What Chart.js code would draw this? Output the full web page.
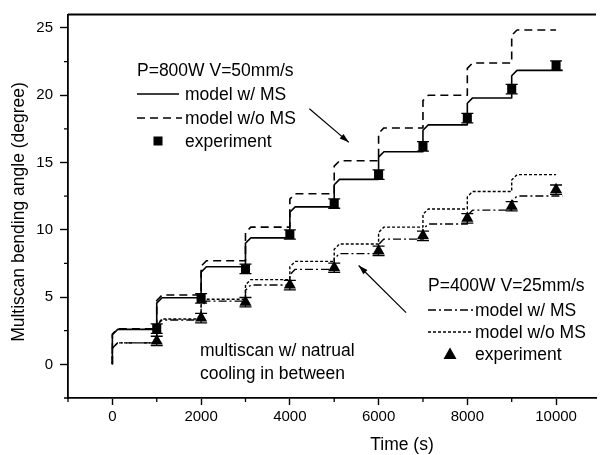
<!DOCTYPE html>
<html>
<head>
<meta charset="utf-8">
<script src="https://cdn.jsdelivr.net/npm/chart.js@4.4.0/dist/chart.umd.min.js"></script>
<style>
  html, body { margin: 0; padding: 0; background: #fff; overflow: hidden; }
  #wrap { width: 603px; height: 455px; position: relative; }
</style>
</head>
<body>
<div id="wrap"><canvas id="bendChart"></canvas></div>
<script>
// scans start every 1000 s, bending angle measured at the end of each cooling interval
const scanTimes = [0, 1000, 2000, 3000, 4000, 5000, 6000, 7000, 8000, 9000];
const expTimes = [1000, 2000, 3000, 4000, 5000, 6000, 7000, 8000, 9000, 10000];

// P=800W V=50mm/s
const model800MS = [2.6, 4.95, 7.25, 9.4, 11.7, 13.75, 15.8, 17.8, 19.8, 21.85];
const model800NoMS = [2.65, 5.15, 7.7, 10.2, 12.68, 15.13, 17.57, 20.0, 22.4, 24.85];
const exp800 = [2.66, 4.9, 7.1, 9.65, 11.95, 14.1, 16.2, 18.3, 20.45, 22.2];
const err800 = [0.35, 0.35, 0.35, 0.35, 0.35, 0.35, 0.35, 0.35, 0.35, 0.35];

// P=400W V=25mm/s
const model400MS = [1.6, 3.3, 4.7, 5.9, 7.06, 8.23, 9.31, 10.43, 11.46, 12.51];
const model400NoMS = [1.6, 3.37, 4.84, 6.3, 7.65, 8.95, 10.2, 11.55, 12.85, 14.1];
const exp400 = [1.74, 3.44, 4.62, 5.89, 7.18, 8.43, 9.55, 10.85, 11.75, 12.98];
const err400 = [0.35, 0.35, 0.35, 0.35, 0.35, 0.35, 0.35, 0.35, 0.35, 0.35];

// axis ticks
const xMajor = [0, 2000, 4000, 6000, 8000, 10000];
const xMinor = [-1000, 1000, 3000, 5000, 7000, 9000];
const yMajor = [0, 5, 10, 15, 20, 25];
const yMinor = [-2.5, 2.5, 7.5, 12.5, 17.5, 22.5];

const FONT = '"Liberation Sans", Arial, Helvetica, sans-serif';
const corner = { dx: 120, dy: 0.4 };   // knee of each heating step

// step curve: jump at every scan start, flat during cooling
function stepLine(levels, tEnd) {
  const pts = [{ x: scanTimes[0], y: 0 }];
  levels.forEach((level, i) => {
    const t = scanTimes[i];
    if (i > 0) pts.push({ x: t, y: levels[i - 1] });
    pts.push({ x: t, y: level - corner.dy });
    pts.push({ x: t + corner.dx, y: level });
  });
  pts.push({ x: tEnd, y: levels[levels.length - 1] });
  return pts;
}

function points(times, vals) {
  return times.map((t, i) => ({ x: t, y: vals[i] }));
}

function lineSet(label, data, dash, width) {
  return {
    label, data, type: 'line',
    borderColor: '#000', borderWidth: width, borderDash: dash,
    borderJoinStyle: 'round', pointRadius: 0, tension: 0, fill: false
  };
}

// error bars with caps under the experiment markers
const errorBars = {
  id: 'errorBars',
  afterDatasetsDraw(chart) {
    const { ctx, scales: { x, y } } = chart;
    ctx.save();
    ctx.strokeStyle = '#000';
    ctx.lineWidth = 1.3;
    const draw = (vals, errs) => {
      expTimes.forEach((t, i) => {
        const px = x.getPixelForValue(t);
        const top = y.getPixelForValue(vals[i] + errs[i]);
        const bot = y.getPixelForValue(vals[i] - errs[i]);
        ctx.beginPath();
        ctx.moveTo(px, top); ctx.lineTo(px, bot);
        ctx.moveTo(px - 6, top); ctx.lineTo(px + 6, top);
        ctx.moveTo(px - 6, bot); ctx.lineTo(px + 6, bot);
        ctx.stroke();
      });
    };
    draw(exp800, err800);
    draw(exp400, err400);
    ctx.restore();
  }
};

// frame, minor ticks, axis titles, legends, notes and arrows
const decor = {
  id: 'decor',
  afterDraw(chart) {
    const { ctx, chartArea: a, scales: { x, y } } = chart;
    ctx.save();
    ctx.strokeStyle = '#000';
    ctx.fillStyle = '#000';

    ctx.lineWidth = 1.8;
    ctx.beginPath();
    ctx.moveTo(a.left, a.top); ctx.lineTo(a.right, a.top);
    ctx.stroke();

    ctx.lineWidth = 1.3;
    ctx.beginPath();
    xMinor.forEach(v => {
      const px = x.getPixelForValue(v);
      ctx.moveTo(px, a.bottom); ctx.lineTo(px, a.bottom + 4);
    });
    yMinor.forEach(v => {
      const py = y.getPixelForValue(v);
      ctx.moveTo(a.left - 4, py); ctx.lineTo(a.left, py);
    });
    ctx.stroke();

    ctx.font = '17.5px ' + FONT;
    ctx.textBaseline = 'middle';
    ctx.textAlign = 'center';
    ctx.fillText('Time (s)', 402, 445);
    ctx.save();
    ctx.translate(19, 212);
    ctx.rotate(-Math.PI / 2);
    ctx.fillText('Multiscan bending angle (degree)', 0, 0);
    ctx.restore();

    ctx.textAlign = 'left';
    ctx.textBaseline = 'alphabetic';
    const sample = (x0, x1, yy, dash, w) => {
      ctx.save();
      ctx.lineWidth = w;
      ctx.setLineDash(dash);
      ctx.beginPath();
      ctx.moveTo(x0, yy); ctx.lineTo(x1, yy);
      ctx.stroke();
      ctx.restore();
    };

    // P=800W block
    ctx.fillText('P=800W V=50mm/s', 137, 76);
    sample(137, 179, 94, [], 1.6);
    ctx.fillText('model w/ MS', 185, 100);
    sample(137, 182, 118, [8, 5], 1.6);
    ctx.fillText('model w/o MS', 185, 123.5);
    ctx.fillRect(153.5, 136.5, 9, 9);
    ctx.fillText('experiment', 185, 146.5);

    // P=400W block
    ctx.fillText('P=400W V=25mm/s', 428, 291);
    sample(428, 473, 310, [8, 3, 2, 3], 1.4);
    ctx.fillText('model w/ MS', 475, 316);
    sample(428, 473, 332, [3, 2], 1.4);
    ctx.fillText('model w/o MS', 475, 338);
    ctx.beginPath();
    ctx.moveTo(450, 347.5); ctx.lineTo(456.5, 359); ctx.lineTo(443.5, 359);
    ctx.closePath();
    ctx.fill();
    ctx.fillText('experiment', 475, 359.5);

    ctx.fillText('multiscan w/ natrual', 200, 356);
    ctx.fillText('cooling in between', 200, 379);

    // arrows pointing to each group of curves
    const arrow = (fx, fy, tx, ty) => {
      const x0 = x.getPixelForValue(fx), y0 = y.getPixelForValue(fy);
      const x1 = x.getPixelForValue(tx), y1 = y.getPixelForValue(ty);
      const ang = Math.atan2(y1 - y0, x1 - x0);
      ctx.lineWidth = 1.2;
      ctx.beginPath();
      ctx.moveTo(x0, y0); ctx.lineTo(x1, y1);
      ctx.stroke();
      ctx.beginPath();
      ctx.moveTo(x1, y1);
      ctx.lineTo(x1 - 10 * Math.cos(ang - 0.3), y1 - 10 * Math.sin(ang - 0.3));
      ctx.lineTo(x1 - 10 * Math.cos(ang + 0.3), y1 - 10 * Math.sin(ang + 0.3));
      ctx.closePath();
      ctx.fill();
    };
    arrow(4440, 19.0, 5330, 16.5);
    arrow(6620, 3.85, 5550, 7.35);

    ctx.restore();
  }
};

const ctx = document.getElementById('bendChart').getContext('2d');
const bendChart = new Chart(ctx, {
  type: 'scatter',
  data: {
    datasets: [
      {
        label: 'experiment 800W', data: points(expTimes, exp800),
        pointStyle: 'rect', pointRadius: 6.4, backgroundColor: '#000', borderColor: '#000', borderWidth: 0
      },
      {
        label: 'experiment 400W', data: points(expTimes, exp400),
        pointStyle: 'triangle', pointRadius: 7, backgroundColor: '#000', borderColor: '#000', borderWidth: 0
      },
      lineSet('model w/ MS 800W', stepLine(model800MS, 10150), [], 1.6),
      lineSet('model w/o MS 800W', stepLine(model800NoMS, 10000), [8, 5], 1.6),
      lineSet('model w/ MS 400W', stepLine(model400MS, 10150), [8, 3, 2, 3], 1.4),
      lineSet('model w/o MS 400W', stepLine(model400NoMS, 10000), [3, 2], 1.4)
    ]
  },
  options: {
    responsive: true,
    maintainAspectRatio: false,
    animation: false,
    devicePixelRatio: 1,
    layout: { padding: { top: 7.5, right: 0, bottom: 0, left: 0 } },
    plugins: { legend: { display: false }, tooltip: { enabled: false } },
    scales: {
      x: {
        type: 'linear', min: -1000, max: 10900,
        afterBuildTicks: s => { s.ticks = xMajor.map(v => ({ value: v })); },
        afterFit: s => { s.height = 57; },
        ticks: {
          color: '#000', padding: 4, maxRotation: 0,
          font: { family: FONT, size: 15, lineHeight: 1 },
          callback: v => String(v)
        },
        grid: { drawOnChartArea: false, color: '#000', tickLength: 7, tickWidth: 1.4 },
        border: { display: true, color: '#000', width: 1.8 }
      },
      y: {
        type: 'linear', min: -2.5, max: 26,
        afterBuildTicks: s => { s.ticks = yMajor.map(v => ({ value: v })); },
        afterFit: s => { s.width = 68; },
        ticks: {
          color: '#000', padding: 7,
          font: { family: FONT, size: 15, lineHeight: 1 },
          callback: v => String(v)
        },
        grid: { drawOnChartArea: false, color: '#000', tickLength: 8, tickWidth: 1.4 },
        border: { display: true, color: '#000', width: 1.8 }
      }
    }
  },
  plugins: [errorBars, decor]
});
</script>
</body>
</html>
